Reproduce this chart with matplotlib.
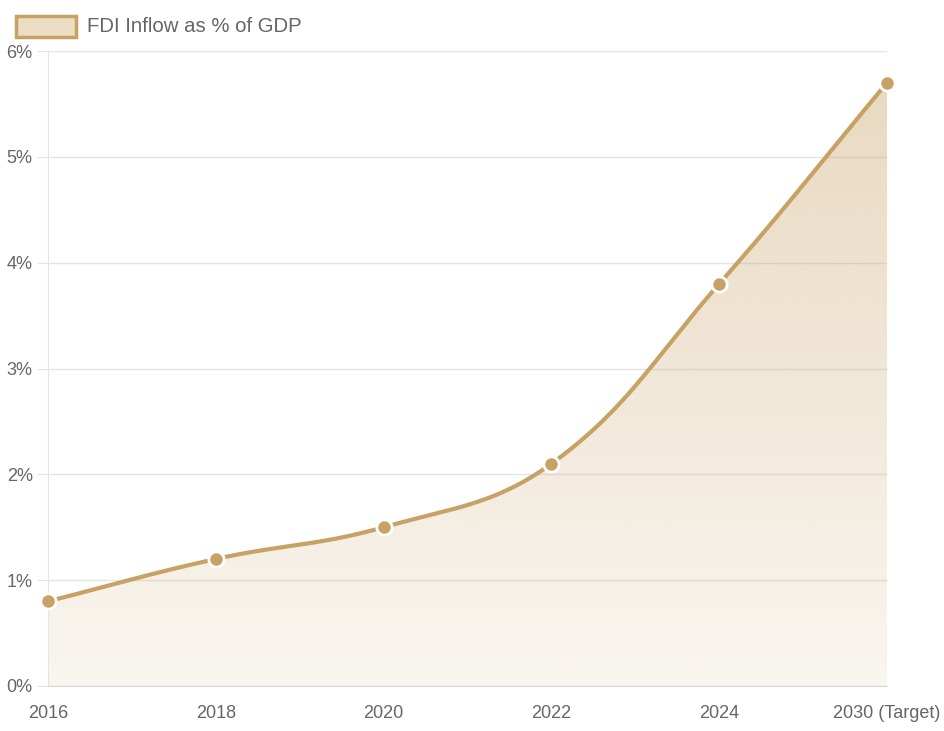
import numpy as np
import matplotlib
matplotlib.use("Agg")
import matplotlib.pyplot as plt
from matplotlib.patches import Rectangle

years = ["2016", "2018", "2020", "2022", "2024", "2030 (Target)"]
fdi_pct = [0.8, 1.2, 1.5, 2.1, 3.8, 5.7]
series_label = "FDI Inflow as % of GDP"

line_color = "#C8A165"
text_color = "#666666"
grid_color = "#E4E4E4"

plt.rcParams["font.family"] = ["Liberation Sans", "DejaVu Sans"]

W, H = 945, 731
fig = plt.figure(figsize=(W / 100, H / 100), dpi=100)
ax = fig.add_axes([48 / W, (H - 686) / H, (887 - 48) / W, (686 - 51) / H])

x = np.arange(len(years))
y = np.array(fdi_pct)
ax.set_xlim(0, len(years) - 1)
ax.set_ylim(0, 6)

# chart.js style spline (tension 0.4), control points worked out in pixel space
px_per_x = (887 - 48) / (len(years) - 1)
px_per_y = (686 - 51) / 6
P = np.column_stack([x * px_per_x, y * px_per_y])
t = 0.4
cps = []
for i in range(len(P)):
    prev = P[max(i - 1, 0)]
    cur = P[i]
    nxt = P[min(i + 1, len(P) - 1)]
    d01 = np.hypot(*(cur - prev))
    d12 = np.hypot(*(nxt - cur))
    tot = d01 + d12
    s01 = d01 / tot if tot else 0
    s12 = d12 / tot if tot else 0
    cps.append((cur - t * s01 * (nxt - prev), cur + t * s12 * (nxt - prev)))

scale = np.array([px_per_x, px_per_y])
samples = []
tt = np.linspace(0, 1, 60)[:, None]
for i in range(len(P) - 1):
    p0, c1, c2, p3 = P[i], cps[i][1], cps[i + 1][0], P[i + 1]
    seg = ((1 - tt) ** 3) * p0 + 3 * ((1 - tt) ** 2) * tt * c1 \
        + 3 * (1 - tt) * tt ** 2 * c2 + tt ** 3 * p3
    samples.append(seg if i == 0 else seg[1:])
curve_xy = np.vstack(samples) / scale

# gradient fill under the curve
poly = np.vstack([curve_xy, [[curve_xy[-1, 0], 0], [curve_xy[0, 0], 0]]])
clip = plt.Polygon(poly, closed=True, facecolor="none", edgecolor="none")
ax.add_patch(clip)
grad = np.zeros((256, 1, 4))
grad[:, 0, :3] = matplotlib.colors.to_rgb(line_color)
grad[:, 0, 3] = np.linspace(0.1, 0.42, 256)
img = ax.imshow(grad, extent=[0, len(years) - 1, 0, 6], origin="lower",
                aspect="auto", zorder=1, interpolation="bilinear")
img.set_clip_path(clip)

ax.plot(curve_xy[:, 0], curve_xy[:, 1], color=line_color, lw=3, zorder=3,
        solid_capstyle="round")
ax.plot(x, y, "o", color=line_color, markersize=11, markeredgecolor="white",
        markeredgewidth=2, zorder=4, clip_on=False)

ax.set_xticks(x)
ax.set_xticklabels(years)
ax.set_yticks(range(7))
ax.set_yticklabels([f"{v}%" for v in range(7)])
ax.grid(axis="y", color=grid_color, lw=1)
ax.set_axisbelow(True)
ax.tick_params(axis="y", length=8, color=grid_color, pad=3, labelsize=13,
               labelcolor=text_color)
ax.tick_params(axis="x", length=0, pad=14, labelsize=13, labelcolor=text_color)
for s in ["top", "right"]:
    ax.spines[s].set_visible(False)
ax.spines["left"].set_color(grid_color)
ax.spines["bottom"].set_color("#D8D8D8")

# legend drawn like chart.js: swatch box + label
fig.patches.append(Rectangle((16 / W, (H - 37) / H), 60 / W, 21 / H,
                             transform=fig.transFigure, facecolor="#EBDCC4",
                             edgecolor=line_color, lw=2.5))
fig.text(87 / W, (H - 26) / H, series_label, color=text_color, fontsize=14.7,
         va="center", ha="left")

fig.savefig("out.png", dpi=100)
